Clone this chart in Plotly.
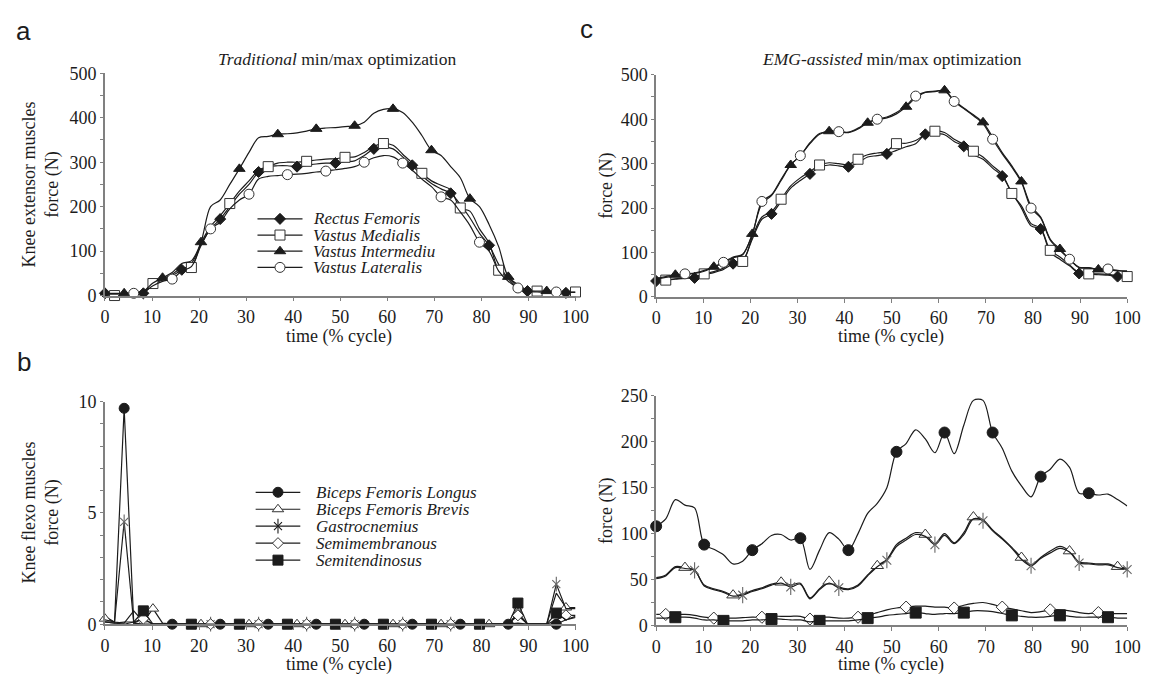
import plotly.graph_objects as go

# ---------------- data ----------------
TIME = [0, 2.04, 4.08, 6.12, 8.16, 10.2, 12.24, 14.29, 16.33, 18.37,
        20.41, 22.45, 24.49, 26.53, 28.57, 30.61, 32.65, 34.69, 36.73, 38.78,
        40.82, 42.86, 44.9, 46.94, 48.98, 51.02, 53.06, 55.1, 57.14, 59.18,
        61.22, 63.27, 65.31, 67.35, 69.39, 71.43, 73.47, 75.51, 77.55, 79.59,
        81.63, 83.67, 85.71, 87.76, 89.8, 91.84, 93.88, 95.92, 97.96, 100]

X_TICKS = [0, 10, 20, 30, 40, 50, 60, 70, 80, 90, 100]

# panel a : knee extensors, traditional optimisation
EXT_NAMES = ["Rectus Femoris", "Vastus Medialis", "Vastus Intermediu", "Vastus Lateralis"]
A_RF = [5, 4, 3, 4, 5, 25, 35, 45, 58, 72,
        115, 150, 172, 200, 228, 250, 278, 290, 292, 292,
        290, 293, 296, 298, 298, 301, 303, 315, 330, 334,
        330, 312, 293, 270, 252, 240, 230, 205, 175, 140,
        113, 70, 38, 18, 10, 8, 7, 6, 6, 6]
A_VM = [2, 0, 2, 4, 8, 27, 38, 48, 62, 63,
        118, 155, 180, 207, 235, 258, 282, 290, 298, 300,
        300, 302, 305, 307, 308, 311, 312, 322, 336, 342,
        338, 318, 298, 275, 258, 248, 238, 197, 190, 150,
        118, 57, 40, 22, 12, 10, 9, 8, 8, 8]
A_VI = [5, 5, 5, 6, 10, 28, 40, 52, 72, 78,
        120, 200, 215, 250, 285, 322, 355, 358, 363, 364,
        366, 370, 375, 377, 378, 380, 382, 390, 410, 419,
        420, 412, 390, 360, 327, 315, 290, 265, 218, 200,
        160, 110, 42, 25, 12, 10, 10, 9, 8, 8]
A_VL = [3, 3, 4, 5, 8, 22, 32, 37, 55, 65,
        112, 150, 165, 195, 215, 228, 262, 268, 270, 272,
        273, 275, 278, 280, 283, 286, 290, 300, 310, 315,
        312, 298, 282, 262, 245, 222, 215, 188, 158, 120,
        100, 55, 32, 17, 10, 8, 8, 8, 7, 7]

# panel c : knee extensors, EMG-assisted optimisation
C_RF = [36, 38, 40, 42, 43, 50, 55, 62, 75, 82,
        130, 175, 187, 215, 245, 262, 277, 292, 297, 295,
        293, 302, 315, 318, 322, 330, 338, 345, 366, 368,
        365, 350, 339, 320, 310, 290, 272, 235, 200, 160,
        153, 100, 85, 70, 53, 52, 50, 49, 46, 45]
C_VM = [38, 38, 41, 43, 46, 52, 57, 65, 80, 80,
        135, 180, 192, 220, 250, 268, 282, 297, 302, 300,
        298, 310, 320, 324, 328, 345, 346, 352, 366, 373,
        370, 355, 343, 328, 315, 295, 276, 233, 205, 165,
        155, 105, 90, 72, 55, 52, 52, 51, 48, 46]
C_VI = [42, 46, 50, 51, 53, 58, 68, 76, 88, 95,
        142, 210, 228, 262, 297, 318, 345, 366, 373, 372,
        370, 378, 392, 399, 403, 412, 428, 448, 460, 462,
        465, 442, 425, 410, 393, 360, 325, 295, 260, 205,
        180, 130, 108, 85, 67, 66, 62, 61, 59, 58]
C_VL = [40, 44, 48, 52, 54, 60, 68, 78, 90, 96,
        140, 215, 230, 265, 298, 318, 347, 368, 372, 372,
        371, 380, 393, 400, 405, 415, 430, 452, 461, 463,
        464, 440, 424, 408, 390, 355, 322, 292, 258, 200,
        178, 128, 105, 85, 66, 65, 63, 63, 60, 58]

# panel b : knee flexors, traditional optimisation
FLX_NAMES = ["Biceps Femoris Longus", "Biceps Femoris Brevis", "Gastrocnemius",
             "Semimembranous", "Semitendinosus"]
B_BFL = [0.35, 0.1, 9.7, 0.05, 0, 0, 0, 0, 0, 0,
         0, 0, 0, 0, 0, 0, 0, 0, 0, 0,
         0, 0, 0, 0, 0, 0, 0, 0, 0, 0,
         0, 0, 0, 0, 0, 0, 0, 0, 0, 0,
         0, 0, 0, 0.05, 0, 0, 0, 0, 0.2, 0.35]
B_BFB = [0.25, 0.1, 0.05, 0.6, 0.1, 0.7, 0.05, 0, 0, 0,
         0, 0, 0, 0, 0, 0, 0, 0, 0, 0,
         0, 0, 0, 0, 0, 0, 0, 0, 0, 0,
         0, 0, 0, 0, 0, 0, 0, 0, 0, 0,
         0, 0, 0, 0.5, 0, 0, 0, 1.4, 0.75, 0.75]
B_GAS = [0.2, 0.1, 4.6, 0.05, 0.25, 0, 0, 0, 0, 0,
         0, 0, 0, 0, 0, 0, 0, 0, 0, 0,
         0, 0, 0, 0, 0, 0, 0, 0, 0, 0,
         0, 0, 0, 0, 0, 0, 0, 0, 0, 0,
         0, 0, 0, 0.5, 0, 0, 0, 1.8, 0.7, 0.7]
B_SM = [0.1, 0.05, 0.1, 0.1, 0.25, 0, 0, 0, 0, 0,
        0, 0, 0, 0, 0, 0, 0, 0, 0, 0,
        0, 0, 0, 0, 0, 0, 0, 0, 0, 0,
        0, 0, 0, 0, 0, 0, 0, 0, 0, 0,
        0, 0, 0, 0.4, 0, 0, 0, 0.2, 0.4, 0.4]
B_ST = [0.1, 0.05, 0, 0.1, 0.6, 0, 0, 0, 0, 0,
        0, 0, 0, 0, 0, 0, 0, 0, 0, 0,
        0, 0, 0, 0, 0, 0, 0, 0, 0, 0,
        0, 0, 0, 0, 0, 0, 0, 0, 0, 0,
        0, 0, 0, 0.95, 0, 0, 0, 0.5, 0.2, 0.3]

# panel d : knee flexors, EMG-assisted optimisation
D_BFL = [108, 116, 137, 131, 128, 88, 83, 77, 67, 70,
         82, 89, 98, 99, 93, 95, 61, 82, 101, 94,
         82, 100, 122, 133, 150, 189, 198, 213, 203, 188,
         210, 187, 218, 245, 245, 210, 193, 168, 152, 140,
         162, 170, 181, 172, 144, 144, 142, 143, 137, 130]
D_BFB = [52, 55, 64, 63, 60, 44, 40, 37, 33, 34,
         38, 41, 45, 47, 44, 46, 30, 40, 48, 42,
         40, 44, 55, 65, 72, 88, 95, 101, 99, 89,
         100, 90, 101, 118, 115, 104, 95, 85, 74, 66,
         74, 81, 86, 81, 69, 68, 67, 67, 64, 62]
D_GAS = [51, 54, 63, 62, 60, 43, 39, 36, 32, 33,
         37, 40, 44, 46, 42, 45, 29, 39, 46, 41,
         39, 43, 54, 64, 71, 86, 93, 99, 97, 88,
         98, 89, 99, 116, 114, 103, 94, 84, 72, 65,
         73, 79, 84, 80, 68, 67, 66, 66, 63, 61]
D_SM = [12, 12, 12, 12, 11, 9, 8, 8, 8, 8.5,
        9, 9, 10, 10, 10, 10, 7, 9, 9, 8,
        8, 9, 11, 14, 17, 19, 20, 21, 21, 20,
        20, 19, 22, 24, 25, 23, 20, 18, 16, 14,
        15, 17, 17, 16, 14, 13, 14, 13, 13, 13]
D_ST = [8, 8, 9, 9, 8, 6, 6, 5, 5, 5,
        6, 6, 7, 7, 6, 6, 4, 5, 5, 5,
        5, 6, 8, 9, 11, 12, 13, 14, 13, 12,
        13, 13, 14, 16, 16, 15, 13, 11, 10, 9,
        9, 10, 11, 10, 9, 9, 9, 9, 8, 8]

# which samples carry a marker (style)
EXT_MARK = [list(range(0, 50, 4)), list(range(1, 50, 4)), list(range(2, 50, 4)), list(range(3, 50, 4))]
B_MARK = [[2, 7, 12, 17, 22, 27, 32, 37, 42, 47],
          [0, 5, 10, 15, 20, 25, 30, 35, 40, 43, 48],
          [2, 4, 11, 16, 21, 26, 31, 36, 43, 47],
          [4, 11, 16, 21, 26, 31, 36, 43, 48],
          [4, 9, 14, 19, 24, 29, 34, 39, 43, 47]]
D_MARK = [list(range(0, 50, 5)), list(range(3, 50, 5)), list(range(4, 50, 5)),
          list(range(1, 50, 5)), list(range(2, 50, 5))]

EXT_KINDS = ["diamond", "square", "triangle", "circle"]
FLX_KINDS = ["dot", "triangle-open", "asterisk", "diamond-open", "square-filled"]

# ---------------- style ----------------
INK = "#1c1c1c"
AXC = "#808080"
SERIF = "Liberation Serif, 'Times New Roman', Times, serif"
SANS = "Liberation Sans, Arial, Helvetica, sans-serif"
PAGE_W, PAGE_H = 1161, 684
PAD = 8                      # the page's default body margin before the figure
W, H = PAGE_W - 2 * PAD, PAGE_H - PAD


def px_x(p):
    return (p - PAD) / W


def px_y(p):
    return (H + PAD - p) / H


def marker_specs(kind, size, ast_color="#666"):
    if kind == "diamond":
        return [dict(symbol="diamond", size=size * 0.85, color=INK, line=dict(color=INK, width=1))]
    if kind == "diamond-open":
        return [dict(symbol="diamond", size=size * 0.85, color="white", line=dict(color="#333", width=1))]
    if kind == "square":
        return [dict(symbol="square", size=size, color="white", line=dict(color="#333", width=1))]
    if kind == "square-filled":
        return [dict(symbol="square", size=size, color=INK, line=dict(color=INK, width=1))]
    if kind == "triangle":
        return [dict(symbol="triangle-up", size=size, color=INK, line=dict(color=INK, width=1))]
    if kind == "triangle-open":
        return [dict(symbol="triangle-up", size=size, color="white", line=dict(color="#333", width=1))]
    if kind == "circle":
        return [dict(symbol="circle", size=size, color="white", line=dict(color="#333", width=1))]
    if kind == "dot":
        return [dict(symbol="circle", size=size, color=INK, line=dict(color=INK, width=1))]
    if kind == "asterisk":
        return [dict(symbol="x-thin-open", size=size * 0.8, color=ast_color, line=dict(width=1.1)),
                dict(symbol="line-ns-open", size=size * 1.05, color=ast_color, line=dict(width=1.1))]
    return []


fig = go.Figure()


def add_series(y, idx, kind, size, xa, ya, shape, name):
    fig.add_trace(go.Scatter(x=TIME, y=y, mode="lines", name=name,
                             line=dict(color=INK, width=1.2, shape=shape, smoothing=0.9),
                             xaxis=xa, yaxis=ya, showlegend=False, hoverinfo="skip"))
    xs = [TIME[i] for i in idx]
    ys = [y[i] for i in idx]
    for m in marker_specs(kind, size):
        fig.add_trace(go.Scatter(x=xs, y=ys, mode="markers", marker=m, name=name,
                                 xaxis=xa, yaxis=ya, showlegend=False,
                                 cliponaxis=False, hoverinfo="skip"))


def add_legend_row(row, kind, size, name, xa, ya, text_px, row_px):
    fig.add_trace(go.Scatter(x=[0, 1], y=[row, row], mode="lines",
                             line=dict(color=INK, width=1.2), xaxis=xa, yaxis=ya,
                             showlegend=False, hoverinfo="skip"))
    for m in marker_specs(kind, size, ast_color=INK):
        fig.add_trace(go.Scatter(x=[0.5], y=[row], mode="markers", marker=m,
                                 xaxis=xa, yaxis=ya, showlegend=False,
                                 cliponaxis=False, hoverinfo="skip"))
    fig.add_annotation(x=px_x(text_px), y=px_y(row_px), xref="paper", yref="paper",
                       text="<i>%s</i>" % name, showarrow=False,
                       xanchor="left", yanchor="middle",
                       font=dict(family=SERIF, size=17, color=INK))


# panel a
for y, idx, kind, nm in zip([A_RF, A_VM, A_VI, A_VL], EXT_MARK, EXT_KINDS, EXT_NAMES):
    add_series(y, idx, kind, 10, "x", "y", "spline", nm)
# panel c
for y, idx, kind, nm in zip([C_RF, C_VM, C_VI, C_VL], EXT_MARK, EXT_KINDS, EXT_NAMES):
    add_series(y, idx, kind, 10, "x3", "y3", "spline", nm)
# panel b
for y, idx, kind, nm in zip([B_BFL, B_BFB, B_GAS, B_SM, B_ST], B_MARK, FLX_KINDS, FLX_NAMES):
    add_series(y, idx, kind, 10, "x2", "y2", "linear", nm)
# panel d
for y, idx, kind, nm in zip([D_BFL, D_BFB, D_GAS, D_SM, D_ST], D_MARK, FLX_KINDS, FLX_NAMES):
    add_series(y, idx, kind, 11, "x4", "y4", "spline", nm)

# legends (legend a rows 16.7 px apart from y=215, legend b rows 17.5 px from y=496.7)
for r, (kind, nm) in enumerate(zip(EXT_KINDS, EXT_NAMES)):
    add_legend_row(r, kind, 10, nm, "x5", "y5", 311, 215 + 16.7 * r)
for r, (kind, nm) in enumerate(zip(FLX_KINDS, FLX_NAMES)):
    add_legend_row(r, kind, 10, nm, "x6", "y6", 314, 496.7 + 17.5 * r)


def xaxis(domain, anchor):
    return dict(domain=domain, anchor=anchor, range=[0, 100], tickvals=X_TICKS,
                showline=True, linecolor=AXC, linewidth=1.5, ticks="outside",
                ticklen=4, tickcolor=AXC, tickwidth=1, showgrid=False, zeroline=False,
                tickfont=dict(family=SERIF, size=18, color=INK), fixedrange=True)


def yaxis(domain, anchor, rng, dtick, minor):
    return dict(domain=domain, anchor=anchor, range=rng, dtick=dtick,
                showline=True, linecolor=AXC, linewidth=1.5, ticks="outside",
                ticklen=3, tickcolor=AXC, tickwidth=1, showgrid=False, zeroline=False,
                minor=dict(dtick=minor, ticks="outside", ticklen=3, tickcolor=AXC),
                tickfont=dict(family=SERIF, size=18, color=INK), fixedrange=True)


XA = [px_x(101.5), px_x(580)]
XC = [px_x(662), px_x(1141)]

fig.update_layout(
    width=W, height=H, margin=dict(l=0, r=0, t=0, b=0),
    paper_bgcolor="white", plot_bgcolor="white", showlegend=False,
    font=dict(family=SERIF, color=INK),
    xaxis=xaxis(XA, "y"),
    yaxis=yaxis([px_y(294), px_y(65)], "x", [0, 500], 100, 50),
    xaxis2=xaxis(XA, "y2"),
    yaxis2=yaxis([px_y(632.7), px_y(403.3)], "x2", [0, 10], 5, 1),
    xaxis3=xaxis(XC, "y3"),
    yaxis3=yaxis([px_y(295.5), px_y(66.5)], "x3", [0, 500], 100, 50),
    xaxis4=xaxis(XC, "y4"),
    yaxis4=yaxis([px_y(634), px_y(397.3)], "x4", [0, 250], 50, 25),
    xaxis5=dict(domain=[px_x(256.4), px_x(302.6)], range=[0, 1], visible=False, anchor="y5"),
    yaxis5=dict(domain=[px_y(275), px_y(205)], range=[3.6, -0.6], visible=False, anchor="x5"),
    xaxis6=dict(domain=[px_x(254.5), px_x(300.4)], range=[0, 1], visible=False, anchor="y6"),
    yaxis6=dict(domain=[px_y(575.4), px_y(488)], range=[4.5, -0.5], visible=False, anchor="x6"),
)


def note(text, x, y, size=18, family=SERIF, angle=0, xanchor="center"):
    fig.add_annotation(x=px_x(x), y=px_y(y), xref="paper", yref="paper", text=text,
                       showarrow=False, textangle=angle, xanchor=xanchor, yanchor="middle",
                       font=dict(family=family, size=size, color=INK))


# panel letters
note("a", 19, 21, size=26, family=SANS)
note("b", 19, 362, size=26, family=SANS)
note("c", 591, 19, size=26, family=SANS)
# titles
note("<i>Traditional</i> min/max optimization", 337, 50, size=17.5)
note("<i>EMG-assisted</i> min/max optimization", 902, 50, size=17.5)
# axis titles
note("time (% cycle)", 340, 336)
note("time (% cycle)", 901, 336)
note("time (% cycle)", 340, 674)
note("time (% cycle)", 901, 674)
note("Knee extensor muscles<br>force (N)", 36, 180, angle=-90)
note("Knee flexo muscles<br>force (N)", 36, 518, angle=-90)
note("force (N)", 612, 181, angle=-90)
note("force (N)", 612, 516, angle=-90)

fig.write_html("out.html")
